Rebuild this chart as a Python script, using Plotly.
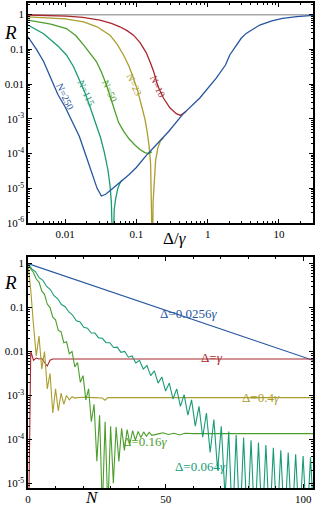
import plotly.graph_objects as go

# ---------------- data ----------------
# Top panel: reflectance R vs detuning Delta/gamma for several N.
# values are stored as base-10 exponents
n10_logD = [-2.52, -2.2, -1.98, -1.75, -1.51, -1.35, -1.23, -1.13, -1.04, -0.95, -0.86, -0.80, -0.76, -0.70, -0.62, -0.53, -0.44, -0.38, -0.30]
n10_logR = [-0.01, -0.02, -0.04, -0.08, -0.16, -0.25, -0.35, -0.46, -0.59, -0.80, -1.10, -1.40, -1.62, -2.05, -2.40, -2.68, -2.85, -2.90, -2.78]

n23_logD = [-2.52, -2.0, -1.74, -1.55, -1.37, -1.27, -1.18, -1.10, -1.04, -0.98, -0.93, -0.88, -0.85, -0.82, -0.80, -0.785, -0.775, -0.765, -0.75, -0.73, -0.70, -0.66, -0.62]
n23_logR = [-0.066, -0.12, -0.21, -0.35, -0.59, -0.85, -1.16, -1.50, -1.83, -2.20, -2.60, -3.0, -3.35, -3.8, -4.3, -5.2, -7.0, -5.4, -4.7, -4.2, -3.85, -3.62, -3.55]

n50_logD = [-2.52, -2.20, -1.98, -1.85, -1.74, -1.65, -1.56, -1.49, -1.42, -1.36, -1.30, -1.25, -1.18, -1.10, -1.02, -0.95, -0.88, -0.83, -0.78]
n50_logR = [-0.16, -0.27, -0.40, -0.60, -0.87, -1.10, -1.35, -1.65, -2.02, -2.40, -2.80, -3.10, -3.35, -3.58, -3.75, -3.88, -3.97, -4.0, -3.95]

n115_logD = [-2.52, -2.30, -2.10, -1.98, -1.88, -1.80, -1.72, -1.65, -1.58, -1.50, -1.45, -1.40, -1.37, -1.35, -1.33, -1.31, -1.29, -1.26, -1.23, -1.20]
n115_logR = [-0.30, -0.55, -0.90, -1.16, -1.50, -1.85, -2.25, -2.65, -3.05, -3.55, -3.95, -4.45, -4.9, -5.4, -7.0, -5.6, -5.3, -5.0, -4.85, -4.76]

n250_logD = [-2.52, -2.40, -2.30, -2.20, -2.10, -2.00, -1.90, -1.80, -1.70, -1.62, -1.55, -1.49, -1.43, -1.37, -1.30, -1.23, -1.10, -1.00, -0.86, -0.70, -0.55, -0.35, -0.11, 0.12, 0.25, 0.31, 0.40, 0.47, 0.54, 0.64, 0.73, 0.90, 1.05, 1.25, 1.48]
n250_logR = [-0.64, -1.0, -1.35, -1.85, -2.3, -2.65, -3.1, -3.5, -4.1, -4.6, -5.0, -5.22, -5.17, -5.07, -4.95, -4.83, -4.60, -4.40, -4.05, -3.70, -3.37, -2.87, -2.40, -1.83, -1.45, -1.16, -0.87, -0.68, -0.54, -0.40, -0.30, -0.18, -0.11, -0.06, -0.02]

top_labels = ["N=10", "N=23", "N=50", "N=115", "N=250"]
unity_R = 1.0

# Bottom panel: R vs number of atoms N for several detunings.
blue_N = [0, 5, 10, 15, 20, 25, 30, 35, 40, 45, 50, 55, 60, 65, 70, 75, 80, 85, 90, 95, 100, 103.5]
blue_logR = [0, -0.107, -0.213, -0.32, -0.426, -0.533, -0.64, -0.745, -0.852, -0.96, -1.065, -1.17, -1.28, -1.385, -1.49, -1.6, -1.7, -1.81, -1.92, -2.02, -2.13, -2.2]

red_N = [0, 1, 2, 3, 4, 5, 6, 7, 8, 9, 10, 103.5]
red_logR = [-7, -2.0, -2.2, -2.15, -2.17, -2.16, -2.25, -2.33, -2.2, -2.17, -2.17, -2.17]

olive_N = [0, 1, 2, 3, 4, 5, 6, 7, 8, 9, 10, 11, 12, 13, 14, 15, 16, 17, 18, 20, 24, 27, 28, 29, 32, 103.5]
olive_logR = [0, -0.6, -1.4, -2.1, -1.65, -2.4, -2.0, -2.85, -2.5, -3.4, -2.85, -3.35, -2.95, -3.2, -3.0, -3.1, -3.03, -3.06, -3.05, -3.04, -3.05, -3.06, -3.11, -3.05, -3.05, -3.05]

green_N = [0, 1, 2, 3, 4, 5, 6, 7, 8, 9, 10, 11, 12, 13, 14, 15, 16, 17, 18, 19, 20, 21, 22, 23, 24, 25, 26, 27, 28, 29, 30,
           31, 32, 33, 34, 35, 36, 37, 38, 39, 40, 41, 42, 43, 44, 45, 47, 49, 51, 53, 55, 57, 60, 70, 80, 90, 103.5]
green_logR = [0, -0.12, -0.2, -0.35, -0.42, -0.62, -0.7, -0.92, -1.0, -1.22, -1.28, -1.52, -1.55, -1.8, -1.78, -2.05, -2.0, -2.35, -2.25, -2.7, -2.55, -3.1, -2.85, -3.6, -3.2, -4.5, -3.45, -5.6, -3.6, -5.6, -3.7,
              -5.0, -3.72, -4.5, -3.75, -4.25, -3.78, -4.1, -3.8, -4.02, -3.82, -3.96, -3.83, -3.93, -3.84, -3.91, -3.88, -3.85, -3.89, -3.86, -3.9, -3.86, -3.87, -3.87, -3.87, -3.87, -3.87]

teal_N = [0, 1.35, 2.7, 4.05, 5.4, 6.75, 8.1, 9.45, 10.8, 12.15, 13.5, 14.85, 16.2, 17.55, 18.9, 20.25, 21.6, 22.95, 24.3, 25.65,
          27, 28.35, 29.7, 31.05, 32.4, 33.75, 35.1, 36.45, 37.8, 39.15, 40.5, 41.85, 43.2, 44.55, 45.9, 47.25, 48.6, 49.95, 51.3, 52.65,
          54, 55.35, 56.7, 58.05, 59.4, 60.75, 62.1, 63.45, 64.8, 66.15, 67.5, 68.85, 70.2, 71.55, 72.9, 74.25, 75.6, 76.95, 78.3, 79.65,
          81, 82.35, 83.7, 85.05, 86.4, 87.75, 89.1, 90.45, 91.8, 93.15, 94.5, 95.85, 97.2, 98.55, 99.9, 101.25, 102.6, 103.95]
teal_logR = [0, -0.12, -0.18, -0.32, -0.38, -0.52, -0.59, -0.73, -0.80, -0.93, -0.98, -1.10, -1.17, -1.30, -1.33, -1.45, -1.47, -1.58, -1.58, -1.69,
             -1.70, -1.80, -1.80, -1.91, -1.90, -2.02, -2.00, -2.13, -2.10, -2.26, -2.20, -2.40, -2.32, -2.55, -2.44, -2.72, -2.58, -2.9, -2.72, -3.08,
             -2.85, -3.25, -2.98, -3.45, -3.1, -3.7, -3.25, -3.95, -3.4, -4.3, -3.55, -4.7, -3.7, -5.3, -3.82, -6, -3.9, -6, -3.96, -6,
             -4.02, -6, -4.07, -6, -4.13, -6, -4.19, -6, -4.25, -6, -4.3, -6, -4.34, -6, -4.38, -6, -4.41, -6]

bottom_labels = ["Δ=0.0256<i>γ</i>", "Δ=<i>γ</i>", "Δ=0.4<i>γ</i>", "Δ=0.16<i>γ</i>", "Δ=0.064<i>γ</i>"]

# ---------------- style ----------------
C_RED = "#a8282e"
C_OLIVE = "#ab9d2e"
C_GREEN = "#4c9e2c"
C_TEAL = "#199b78"
C_BLUE = "#2655a0"
FONT = "Liberation Serif"


def tenpow(v):
    return [10 ** x for x in v]


fig = go.Figure()

# top panel
fig.add_trace(go.Scatter(x=[10 ** -2.519, 10 ** 1.477], y=[unity_R, unity_R], mode="lines",
                         line=dict(color="#a8a8a8", width=1.5), xaxis="x", yaxis="y", showlegend=False))
for d, r, c in [(n10_logD, n10_logR, C_RED), (n23_logD, n23_logR, C_OLIVE), (n50_logD, n50_logR, C_GREEN),
                (n115_logD, n115_logR, C_TEAL), (n250_logD, n250_logR, C_BLUE)]:
    fig.add_trace(go.Scatter(x=tenpow(d), y=tenpow(r), mode="lines", line=dict(color=c, width=1.3),
                             xaxis="x", yaxis="y", showlegend=False))

# bottom panel
for n, r, c in [(blue_N, blue_logR, C_BLUE), (red_N, red_logR, C_RED), (olive_N, olive_logR, C_OLIVE),
                (green_N, green_logR, C_GREEN), (teal_N, teal_logR, C_TEAL)]:
    fig.add_trace(go.Scatter(x=n, y=tenpow(r), mode="lines", line=dict(color=c, width=1.1),
                             xaxis="x2", yaxis="y2", showlegend=False))

axis_common = dict(showline=True, linecolor="black", linewidth=1.5, mirror="allticks", ticks="inside",
                   ticklen=4, tickwidth=1, tickcolor="black", showgrid=False, zeroline=False,
                   tickfont=dict(family=FONT, size=11, color="black"))

minor_log = dict(ticks="inside", ticklen=2, tickcolor="black", dtick="D1", showgrid=False)

fig.update_layout(
    width=316, height=507,
    margin=dict(l=28, r=3, t=1, b=19),
    paper_bgcolor="white", plot_bgcolor="white",
    xaxis=dict(type="log", range=[-2.519, 1.477], domain=[0, 1], anchor="y",
               tickvals=[0.01, 0.1, 1, 10], ticktext=["0.01", "0.1", "1", "10"], minor=minor_log, **axis_common),
    yaxis=dict(type="log", range=[-6, 0.335], domain=[0.5462, 1], anchor="x",
               tickvals=[1e-6, 1e-5, 1e-4, 1e-3, 1e-2, 1e-1, 1],
               ticktext=["10<sup>-6</sup>", "10<sup>-5</sup>", "10<sup>-4</sup>", "10<sup>-3</sup>", "0.01", "0.1", "1"],
               minor=minor_log, **axis_common),
    xaxis2=dict(range=[0, 103.5], domain=[0, 1], anchor="y2", tickvals=[0, 50, 100],
                minor=dict(ticks="inside", ticklen=2, tickcolor="black", dtick=10), **axis_common),
    yaxis2=dict(type="log", range=[-5.107, 0.152], domain=[0, 0.4764], anchor="x2",
                tickvals=[1e-5, 1e-4, 1e-3, 1e-2, 1e-1, 1],
                ticktext=["10<sup>-5</sup>", "10<sup>-4</sup>", "10<sup>-3</sup>", "0.01", "0.1", "1"],
                minor=minor_log, **axis_common),
)

ann = []
# axis titles
ann.append(dict(text="<i>R</i>", x=10, y=31, xref="paper", yref="paper"))
ann.append(dict(text="Δ/<i>γ</i>", x=175, y=237, xref="paper", yref="paper"))
ann.append(dict(text="<i>R</i>", x=10, y=282, xref="paper", yref="paper"))
ann.append(dict(text="<i>N</i>", x=92, y=498, xref="paper", yref="paper"))


def px_to_paper(x, y):
    return (x - 28) / 285.0, (488 - y) / 487.0


annotations = []
for a, size in zip(ann, [19, 17, 19, 17]):
    px, py = px_to_paper(a["x"], a["y"])
    annotations.append(dict(text=a["text"], x=px, y=py, xref="paper", yref="paper", showarrow=False,
                            font=dict(family=FONT, size=size, color="black"), xanchor="center", yanchor="middle"))

# top curve labels (positions in log10 units of the top axes)
top_pos = [(-0.70, -2.07), (-1.03, -2.01), (-1.37, -2.21), (-1.70, -2.27), (-2.0, -2.36)]
top_cols = [C_RED, C_OLIVE, C_GREEN, C_TEAL, C_BLUE]
for t, (lx, ly), c in zip(top_labels, top_pos, top_cols):
    annotations.append(dict(text=t, x=lx, y=ly, xref="x", yref="y", showarrow=False, textangle=65,
                            font=dict(family=FONT, size=10, color=c)))

# bottom curve labels (pixel -> data positions)
bot_px = [(219, 313), (225, 367), (282, 407), (145, 451), (200, 476)]
bot_cols = [C_BLUE, C_RED, C_OLIVE, C_GREEN, C_TEAL]
for t, (x, y), c in zip(bottom_labels, bot_px, bot_cols):
    px, py = px_to_paper(x, y)
    annotations.append(dict(text=t, x=px, y=py, xref="paper", yref="paper", showarrow=False,
                            font=dict(family=FONT, size=13, color=c)))

fig.update_layout(annotations=annotations)
fig.write_html("out.html", post_script="document.body.style.margin='0px';",
               config={"displayModeBar": False})
